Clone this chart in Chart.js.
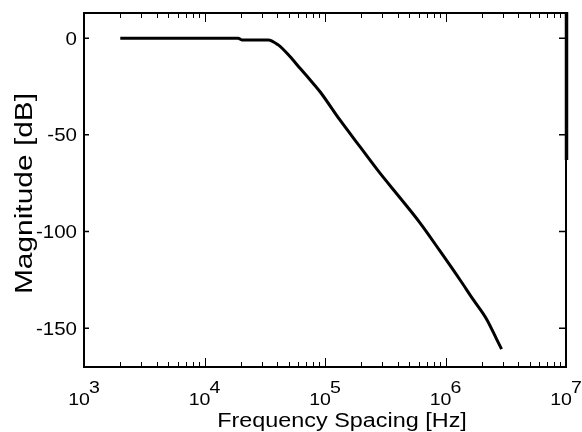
<!DOCTYPE html>
<html>
<head>
<meta charset="utf-8">
<script src="https://cdn.jsdelivr.net/npm/chart.js@4.4.1/dist/chart.umd.min.js"></script>
<style>
  html, body { margin: 0; padding: 0; background: #fff; }
  #wrap { width: 582px; height: 432px; position: relative; }
  canvas { display: block; }
</style>
</head>
<body>
<div id="wrap"><canvas id="c" width="582" height="432"></canvas></div>
<script>
// ---- data ----
const frequencyHz = [2000, 19000, 20400, 33800, 40900, 51200, 62100, 75100, 91000, 133000, 195000, 286000, 419000, 614000, 899000, 1318000, 1700000, 2200000, 2660000, 2920000];
const magnitudeDb = [0, 0, -0.9, -0.9, -3.5, -9.5, -15.6, -21.5, -27.7, -42.3, -56.1, -69.8, -82.5, -95.5, -110.0, -124.9, -135.2, -145.4, -155.7, -160.8];
const xTickExponents = [3, 4, 5, 6, 7];
const yTickValues = [0, -50, -100, -150];
const xTitle = 'Frequency Spacing [Hz]';
const yTitle = 'Magnitude [dB]';

const FONT = '"Liberation Sans", Arial, Helvetica, sans-serif';

function stretchedText(ctx, text, x, y, sx, rot) {
  ctx.save();
  ctx.translate(x, y);
  if (rot) ctx.rotate(rot);
  ctx.scale(sx, 1);
  ctx.fillText(text, 0, 0);
  ctx.restore();
}

const axesPlugin = {
  id: 'matlabAxes',
  afterDraw(chart) {
    const ctx = chart.ctx;
    const xs = chart.scales.x, ys = chart.scales.y;
    const a = chart.chartArea;
    ctx.save();
    ctx.fillStyle = '#000';
    ctx.strokeStyle = '#000';

    // minor and major ticks on the log axis (top and bottom, inward)
    ctx.lineWidth = 1;
    for (let e = xTickExponents[0]; e < xTickExponents[xTickExponents.length - 1]; e++) {
      for (let m = 2; m <= 9; m++) {
        const px = Math.round(xs.getPixelForValue(m * Math.pow(10, e))) + 0.5;
        ctx.beginPath();
        ctx.moveTo(px, a.bottom); ctx.lineTo(px, a.bottom - 5);
        ctx.moveTo(px, a.top); ctx.lineTo(px, a.top + 5);
        ctx.stroke();
      }
    }
    xTickExponents.forEach(e => {
      const px = Math.round(xs.getPixelForValue(Math.pow(10, e))) + 0.5;
      ctx.beginPath();
      ctx.moveTo(px, a.bottom); ctx.lineTo(px, a.bottom - 9);
      ctx.moveTo(px, a.top); ctx.lineTo(px, a.top + 9);
      ctx.stroke();
    });

    // y ticks, left and right, inward
    ctx.lineWidth = 1.5;
    yTickValues.forEach(v => {
      const py = ys.getPixelForValue(v);
      ctx.beginPath();
      ctx.moveTo(a.left, py); ctx.lineTo(a.left + 5, py);
      ctx.moveTo(a.right, py); ctx.lineTo(a.right - 7, py);
      ctx.stroke();
    });

    // frame
    ctx.lineWidth = 2;
    ctx.strokeRect(a.left, a.top, a.right - a.left, a.bottom - a.top);
    // heavier upper part of the right border, as in the reference scan
    ctx.lineWidth = 3.5;
    ctx.beginPath();
    ctx.moveTo(a.right + 0.5, a.top - 1);
    ctx.lineTo(a.right + 0.5, ys.getPixelForValue(-63));
    ctx.stroke();

    // x tick labels: 10 with superscript exponent
    ctx.font = '17px ' + FONT;
    ctx.textAlign = 'left';
    ctx.textBaseline = 'alphabetic';
    const sxX = 1.15;
    xTickExponents.forEach(e => {
      const px = xs.getPixelForValue(Math.pow(10, e));
      const w1 = ctx.measureText('10').width * sxX;
      const w2 = ctx.measureText(String(e)).width * sxX;
      const total = w1 + w2 - 1;
      const start = px - total / 2;
      stretchedText(ctx, '10', start, a.bottom + 38, sxX);
      stretchedText(ctx, String(e), start + w1 - 1, a.bottom + 25.5, sxX);
    });

    // y tick labels
    ctx.font = '18px ' + FONT;
    ctx.textAlign = 'right';
    ctx.textBaseline = 'middle';
    yTickValues.forEach(v => {
      const py = ys.getPixelForValue(v);
      stretchedText(ctx, String(v), a.left - 7, py + 1.5, 1.14);
    });

    // axis titles
    ctx.textAlign = 'center';
    ctx.textBaseline = 'alphabetic';
    ctx.font = '20px ' + FONT;
    stretchedText(ctx, xTitle, 342, 427, 1.17);

    ctx.font = '23px ' + FONT;
    stretchedText(ctx, yTitle, 32, 193.5, 1.3, -Math.PI / 2);

    ctx.restore();
  }
};

new Chart(document.getElementById('c'), {
  type: 'line',
  data: {
    labels: frequencyHz,
    datasets: [{
      data: frequencyHz.map((f, i) => ({ x: f, y: magnitudeDb[i] })),
      borderColor: '#000',
      borderWidth: 3,
      pointRadius: 0,
      fill: false,
      cubicInterpolationMode: 'monotone'
    }]
  },
  options: {
    responsive: false,
    devicePixelRatio: 1,
    animation: false,
    layout: { padding: { left: 84, top: 13, right: 16, bottom: 65 } },
    plugins: { legend: { display: false }, tooltip: { enabled: false } },
    scales: {
      x: { type: 'logarithmic', min: 1000, max: 10000000, display: false },
      y: { type: 'linear', min: -170, max: 13, display: false }
    }
  },
  plugins: [axesPlugin]
});
</script>
</body>
</html>
